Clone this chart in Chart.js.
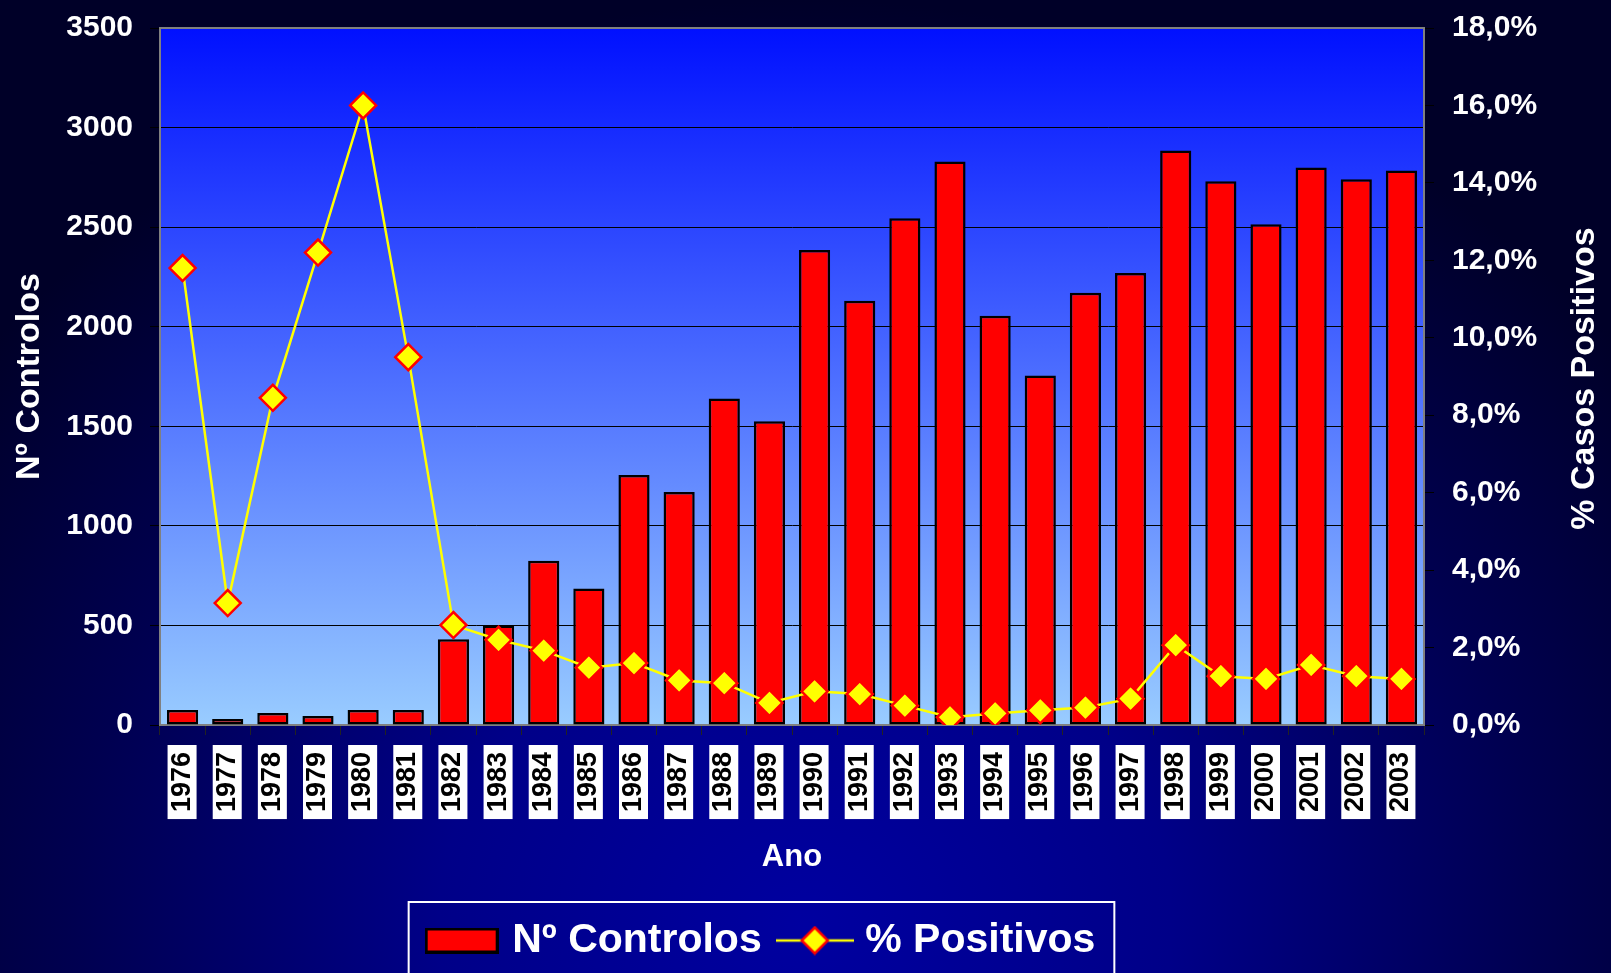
<!DOCTYPE html>
<html>
<head>
<meta charset="utf-8">
<script src="https://cdn.jsdelivr.net/npm/chart.js@4/dist/chart.umd.min.js"></script>
<style>
  html, body { margin: 0; padding: 0; }
  body {
    width: 1611px; height: 973px; overflow: hidden;
    background: radial-gradient(ellipse 65% 95% at 50% 95%, #0000a0 0%, #000088 35%, #000050 70%, #000028 100%);
  }
  canvas { display: block; }
</style>
</head>
<body>
<canvas id="chart" width="1611" height="973"></canvas>
<script>
const years = ['1976', '1977', '1978', '1979', '1980', '1981', '1982', '1983', '1984', '1985',
    '1986', '1987', '1988', '1989', '1990', '1991', '1992', '1993', '1994', '1995',
    '1996', '1997', '1998', '1999', '2000', '2001', '2002', '2003'];
const controlos = [75, 30, 60, 45, 75, 75, 430, 500, 825, 685,
    1255, 1170, 1640, 1525, 2385, 2130, 2545, 2830, 2055, 1755,
    2170, 2270, 2885, 2730, 2515, 2800, 2740, 2785];
const positivos = [11.8, 3.15, 8.45, 12.2, 16.0, 9.5, 2.58, 2.2, 1.92, 1.48,
    1.6, 1.15, 1.08, 0.57, 0.87, 0.8, 0.5, 0.2, 0.3, 0.38,
    0.45, 0.68, 2.06, 1.26, 1.19, 1.55, 1.26, 1.19];
const leftTicks = { min: 0, max: 3500, step: 500 };
const rightTicks = { min: 0, max: 18, step: 2 };

const FONT = "'Liberation Sans', Arial, sans-serif";

// little pictures for the legend entries
function barSample() {
    const c = document.createElement('canvas');
    c.width = 74; c.height = 26;
    const g = c.getContext('2d');
    g.fillStyle = '#ff0000';
    g.fillRect(0, 0, 74, 26);
    g.strokeStyle = '#000000';
    g.lineWidth = 3;
    g.strokeRect(1.5, 1.5, 71, 23);
    return c;
}

function lineSample() {
    const c = document.createElement('canvas');
    c.width = 78; c.height = 30;
    const g = c.getContext('2d');
    g.strokeStyle = '#ffff00';
    g.lineWidth = 2.5;
    g.beginPath(); g.moveTo(0, 15); g.lineTo(78, 15); g.stroke();
    g.beginPath();
    g.moveTo(39, 2); g.lineTo(52, 15); g.lineTo(39, 28); g.lineTo(26, 15); g.closePath();
    g.fillStyle = '#ffff00'; g.fill();
    g.strokeStyle = '#ff0000'; g.lineWidth = 2.5; g.stroke();
    return c;
}

// y axes: fixed width, and no extra room above the plot for the top label
function fixWidth(w) {
    return function(scale) {
        scale.width = w;
        scale.paddingTop = 0;
        scale.paddingBottom = 0;
    };
}

const plotFrame = {
    id: 'plotFrame',
    afterLayout(chart) {
        // the legend in the original sits a bit left of the page centre
        chart.legend.left -= 42;
        chart.legend.right -= 42;
    },
    beforeDraw(chart) {
        const { ctx, chartArea: a } = chart;
        const grad = ctx.createLinearGradient(0, a.top, 0, a.bottom);
        grad.addColorStop(0, '#0010ff');
        grad.addColorStop(1, '#99ccff');
        ctx.save();
        ctx.fillStyle = grad;
        ctx.fillRect(a.left, a.top, a.width, a.height);
        ctx.restore();
    },
    beforeDatasetsDraw(chart) {
        const { ctx, chartArea: a } = chart;
        ctx.save();
        ctx.strokeStyle = '#808080';
        ctx.lineWidth = 2;
        ctx.strokeRect(a.left, a.top, a.width, a.height);
        ctx.restore();
    },
    afterDraw(chart) {
        const { ctx, chartArea: a } = chart;
        ctx.save();
        // right axis title, reading bottom to top
        ctx.translate(a.right + 161, (a.top + a.bottom) / 2 + 2);
        ctx.rotate(-Math.PI / 2);
        ctx.fillStyle = '#ffffff';
        ctx.font = 'bold 34px ' + FONT;
        ctx.textAlign = 'center';
        ctx.textBaseline = 'middle';
        ctx.fillText('% Casos Positivos', 0, 0);
        ctx.restore();

        // frame around the legend
        const hb = chart.legend.legendHitBoxes;
        if (hb && hb.length) {
            const last = hb[hb.length - 1];
            const left = hb[0].left - 23;
            const right = last.left + last.width + 19;
            const top = hb[0].top - 18;
            ctx.save();
            ctx.strokeStyle = '#ffffff';
            ctx.lineWidth = 2;
            ctx.strokeRect(left, top, right - left, chart.height + 10 - top);
            ctx.restore();
        }
    }
};

document.addEventListener('DOMContentLoaded', function() {
    Chart.defaults.font.family = FONT;
    Chart.defaults.font.weight = 'bold';
    Chart.defaults.color = '#ffffff';

    const ctx = document.getElementById('chart').getContext('2d');
    new Chart(ctx, {
        type: 'bar',
        data: {
            labels: years,
            datasets: [
                {
                    type: 'line',
                    label: '% Positivos',
                    data: positivos,
                    yAxisID: 'y1',
                    order: 0,
                    borderColor: '#ffff00',
                    borderWidth: 2.5,
                    tension: 0,
                    pointStyle: 'rectRot',
                    pointRadius: 13,
                    pointBackgroundColor: '#ffff00',
                    pointBorderColor: '#ff0000',
                    pointBorderWidth: 2.5
                },
                {
                    label: 'Nº Controlos',
                    data: controlos,
                    yAxisID: 'y',
                    order: 1,
                    backgroundColor: '#ff0000',
                    borderColor: '#000000',
                    borderWidth: 2.5,
                    borderSkipped: false,
                    categoryPercentage: 1,
                    barPercentage: 0.69
                }
            ]
        },
        options: {
            responsive: false,
            animation: false,
            layout: { padding: { left: 0, right: 0, top: 28, bottom: 2 } },
            plugins: {
                tooltip: { enabled: false },
                legend: {
                    position: 'bottom',
                    labels: {
                        usePointStyle: true,
                        pointStyleWidth: 60,
                        boxHeight: 26,
                        padding: 23,
                        color: '#ffffff',
                        font: { size: 41, weight: 'bold' },
                        generateLabels: function() {
                            return [
                                { text: 'Nº Controlos', pointStyle: barSample(), fontColor: '#ffffff', lineWidth: 0, strokeStyle: 'rgba(0,0,0,0)', fillStyle: 'rgba(0,0,0,0)', datasetIndex: 1 },
                                { text: '% Positivos', pointStyle: lineSample(), fontColor: '#ffffff', lineWidth: 0, strokeStyle: 'rgba(0,0,0,0)', fillStyle: 'rgba(0,0,0,0)', datasetIndex: 0 }
                            ];
                        }
                    }
                }
            },
            scales: {
                x: {
                    afterFit: function(scale) { scale.height = 172; },
                    grid: {
                        offset: true,
                        drawOnChartArea: false,
                        tickLength: 10,
                        tickColor: '#222222'
                    },
                    border: { color: '#303030', width: 2 },
                    ticks: {
                        autoSkip: false,
                        minRotation: 90,
                        maxRotation: 90,
                        padding: 17,
                        labelOffset: -14,
                        color: '#000000',
                        font: { size: 27, weight: 'bold', lineHeight: 1 },
                        showLabelBackdrop: true,
                        backdropColor: '#ffffff',
                        backdropPadding: { top: 1, bottom: 1, left: 7, right: 7 }
                    },
                    title: {
                        display: true,
                        text: 'Ano',
                        color: '#ffffff',
                        font: { size: 31, weight: 'bold' },
                        padding: { top: 0, bottom: 21 }
                    }
                },
                y: {
                    position: 'left',
                    min: leftTicks.min,
                    max: leftTicks.max,
                    afterFit: fixWidth(160),
                    grid: {
                        color: '#000000',
                        lineWidth: 1,
                        tickLength: 10,
                        tickColor: '#000000'
                    },
                    border: { color: '#808080', width: 2 },
                    ticks: {
                        stepSize: leftTicks.step,
                        padding: 17,
                        color: '#ffffff',
                        font: { size: 30, weight: 'bold' },
                        callback: v => v
                    },
                    title: {
                        display: true,
                        text: 'Nº Controlos',
                        color: '#ffffff',
                        font: { size: 34, weight: 'bold' },
                        padding: { top: 9, bottom: 0 }
                    }
                },
                y1: {
                    position: 'right',
                    min: rightTicks.min,
                    max: rightTicks.max,
                    afterFit: fixWidth(187),
                    grid: {
                        drawOnChartArea: false,
                        tickLength: 10,
                        tickColor: '#000000'
                    },
                    border: { color: '#808080', width: 2 },
                    ticks: {
                        stepSize: rightTicks.step,
                        padding: 18,
                        color: '#ffffff',
                        font: { size: 30, weight: 'bold' },
                        callback: v => v.toFixed(1).replace('.', ',') + '%'
                    }
                }
            }
        },
        plugins: [plotFrame]
    });
});
</script>
</body>
</html>
